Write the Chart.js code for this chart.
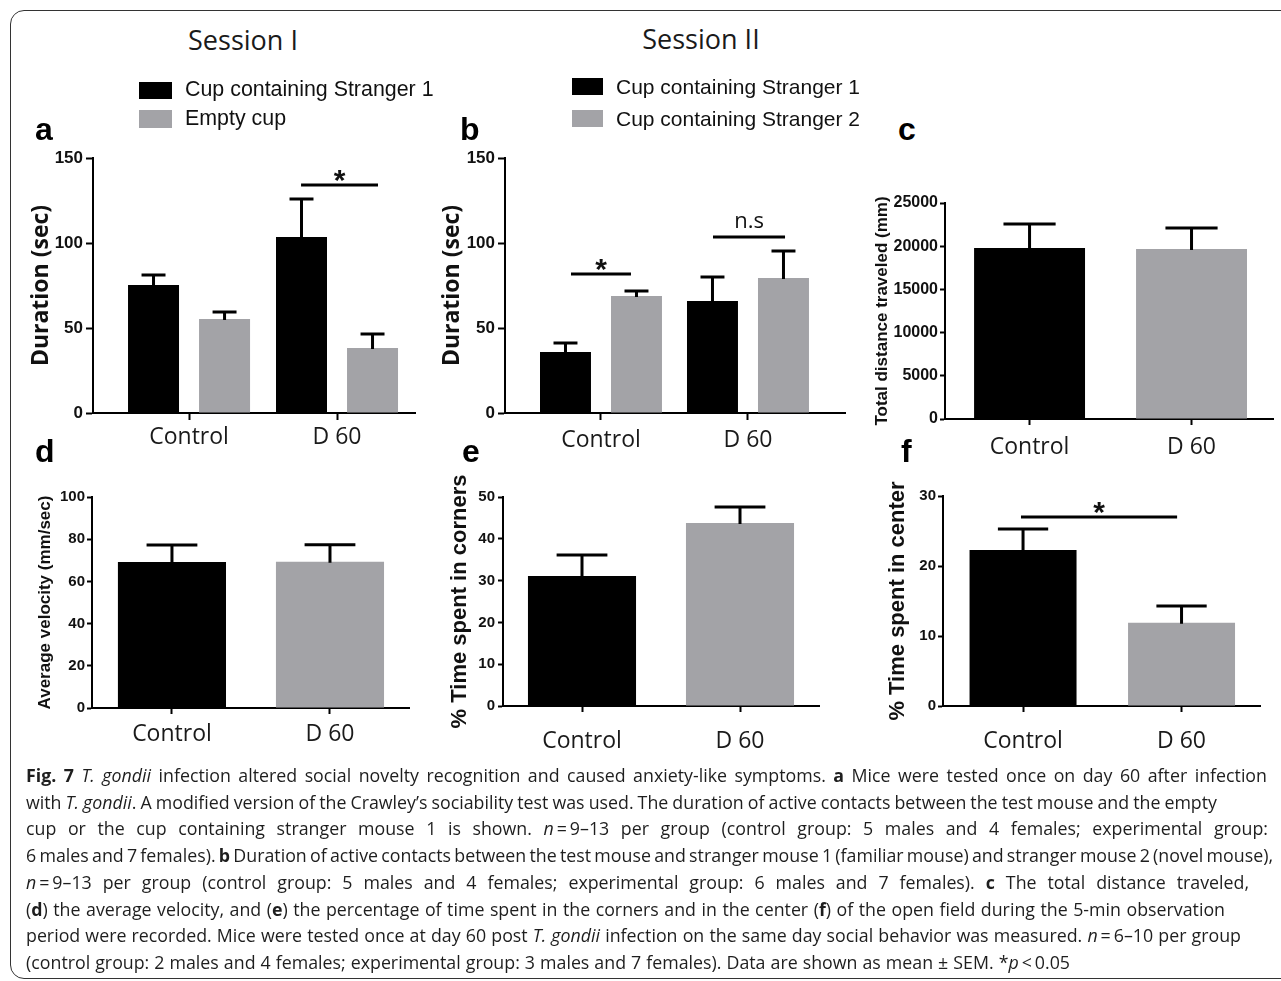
<!DOCTYPE html>
<html><head><meta charset="utf-8">
<script src="https://cdn.jsdelivr.net/npm/chart.js@4.4.0/dist/chart.umd.min.js"></script>
<style>
html,body{margin:0;padding:0;background:#fff;}
body{width:1281px;height:981px;position:relative;overflow:hidden;}
.frame{position:absolute;left:10px;top:10px;width:1330px;height:969px;border:1.6px solid #333;border-radius:14px;box-sizing:border-box;}
.txt{position:absolute;white-space:nowrap;line-height:1;}
.sw{position:absolute;}
.cap{position:absolute;left:26px;font-family:'Open Sans',sans-serif;font-size:18px;line-height:1;color:#1e1e1e;white-space:nowrap;transform-origin:0 50%;}
</style></head><body>
<div class="frame"></div>
<script>
// ---------------- data ----------------
const categories = ['Control', 'D 60'];

// a: Session I
const seriesA = ['Cup containing Stranger 1', 'Empty cup'];
const aStranger1 = [75.3, 103.5];
const aStranger1Sem = [5.9, 22.4];
const aEmpty = [55.3, 38.2];
const aEmptySem = [4.1, 8.3];
const aTicks = [0, 50, 100, 150];

// b: Session II
const seriesB = ['Cup containing Stranger 1', 'Cup containing Stranger 2'];
const bStranger1 = [35.9, 65.9];
const bStranger1Sem = [5.3, 14.1];
const bStranger2 = [68.8, 79.4];
const bStranger2Sem = [3.0, 15.9];
const bTicks = [0, 50, 100, 150];

// c: total distance
const cDistance = [19790, 19680];
const cDistanceSem = [2780, 2430];
const cTicks = [0, 5000, 10000, 15000, 20000, 25000];

// d: average velocity
const dVelocity = [69.2, 69.3];
const dVelocitySem = [8.1, 8.1];
const dTicks = [0, 20, 40, 60, 80, 100];

// e: % time in corners
const eCorners = [31.1, 43.8];
const eCornersSem = [5.0, 3.8];
const eTicks = [0, 10, 20, 30, 40, 50];

// f: % time in center
const fCenter = [22.3, 11.9];
const fCenterSem = [3.0, 2.4];
const fTicks = [0, 10, 20, 30];

// significance markers (x in category units, y in data units)
const aSig = [{from: 1.757, to: 2.277, y: 134.1, label: '*'}];
const bSig = [{from: 0.796, to: 1.204, y: 81.8, label: '*'}, {from: 1.762, to: 2.252, y: 103.5, label: 'n.s'}];
const fSig = [{from: 0.987, to: 1.972, y: 27.0, label: '*'}];

// ---------------- styles ----------------
const BLACK = '#000000', GRAY = '#a3a3a7';
const SANS = "'Liberation Sans', Arial, sans-serif";
const OPEN = "'Open Sans', sans-serif";

function addText(html, o) {
  const d = document.createElement('div');
  d.className = 'txt';
  d.innerHTML = html;
  const k = o.open ? 0.888 : 0.8465;
  d.style.fontFamily = o.open ? OPEN : SANS;
  d.style.fontSize = o.size + 'px';
  d.style.fontWeight = o.bold ? 'bold' : 'normal';
  d.style.color = o.color || '#111';
  d.style.top = (o.base - k * o.size) + 'px';
  d.style.left = o.x + 'px';
  if (o.center) d.style.transform = 'translateX(-50%)';
  document.body.appendChild(d);
}
function addSwatch(x, y, w, h, c) {
  const d = document.createElement('div');
  d.className = 'sw';
  d.style.cssText = `left:${x}px;top:${y}px;width:${w}px;height:${h}px;background:${c};`;
  document.body.appendChild(d);
}

function makePanel(p) {
  const padTop = p.padTop || 16, padRight = 6, Hx = 56;
  const lh = p.titleSize * 1.2;
  const cLeft = Math.round(p.titleX - lh / 2);
  const cTop = p.T - padTop;
  const W = p.R + padRight - cLeft;
  const H = p.B + Hx - cTop;
  const cv = document.createElement('canvas');
  cv.width = W; cv.height = H;
  cv.style.cssText = `position:absolute;left:${cLeft}px;top:${cTop}px;width:${W}px;height:${H}px;`;
  document.body.appendChild(cv);
  const catLH = 23 * 1.2;
  const catPad = p.catY + 1.5 - p.B - p.xTick - catLH / 2;

  const semPlugin = {
    id: 'semAndSig',
    afterDatasetsDraw(chart) {
      const ctx = chart.ctx, ys = chart.scales.y, xs = chart.scales.x;
      ctx.save();
      ctx.strokeStyle = '#000'; ctx.lineWidth = 3; ctx.lineCap = 'butt';
      chart.data.datasets.forEach((ds, di) => {
        const meta = chart.getDatasetMeta(di);
        meta.data.forEach((bar, i) => {
          const top = ys.getPixelForValue(ds.data[i].y + ds.sem[i]);
          const half = bar.width * 0.235;
          ctx.beginPath();
          ctx.moveTo(bar.x, bar.y + 1); ctx.lineTo(bar.x, top);
          ctx.moveTo(bar.x - half, top); ctx.lineTo(bar.x + half, top);
          ctx.stroke();
        });
      });
      (p.sig || []).forEach(s => {
        const x1 = xs.getPixelForValue(s.from), x2 = xs.getPixelForValue(s.to);
        const y = ys.getPixelForValue(s.y);
        ctx.beginPath(); ctx.moveTo(x1, y); ctx.lineTo(x2, y); ctx.stroke();
        ctx.fillStyle = '#111';
        ctx.textAlign = 'center'; ctx.textBaseline = 'alphabetic';
        if (s.label === '*') {
          ctx.font = 'bold 30px ' + SANS;
          ctx.fillText(s.label, (x1 + x2) / 2, y + 5);
        } else {
          ctx.font = '22px ' + OPEN;
          ctx.fillText(s.label, (x1 + x2) / 2, y - 9);
        }
      });
      ctx.restore();
    }
  };

  new Chart(cv, {
    type: 'bar',
    data: {
      datasets: p.series.map(s => ({
        label: s.label,
        data: s.values.map((v, i) => ({x: i + 1, y: v})),
        sem: s.sem,
        backgroundColor: s.colors,
        borderWidth: 0,
        categoryPercentage: p.catPct,
        barPercentage: p.barPct
      }))
    },
    options: {
      responsive: false, animation: false, devicePixelRatio: 1, events: [],
      layout: {padding: {top: padTop, right: padRight, left: 0, bottom: 0}},
      plugins: {legend: {display: false}, tooltip: {enabled: false}},
      scales: {
        x: {
          type: 'linear', min: p.xMin, max: p.xMax, offset: false,
          afterBuildTicks: s => { s.ticks = categories.map((c, i) => ({value: i + 1})); },
          afterFit: s => { s.height = Hx; },
          grid: {display: true, drawOnChartArea: false, drawTicks: true, tickLength: p.xTick, tickWidth: 2, tickColor: '#000', offset: false},
          border: {display: true, color: '#000', width: 2},
          ticks: {callback: (v, i) => categories[i], font: {family: OPEN, size: 23, lineHeight: 1.2}, color: '#1a1a1a', padding: catPad, maxRotation: 0, autoSkip: false}
        },
        y: {
          type: 'linear', min: p.yTicks[0], max: p.yTicks[p.yTicks.length - 1],
          afterBuildTicks: s => { s.ticks = p.yTicks.map(v => ({value: v})); },
          afterFit: s => { s.width = p.L - cLeft; },
          grid: {display: true, drawOnChartArea: false, drawTicks: true, tickLength: p.yTick, tickWidth: 2, tickColor: '#000'},
          border: {display: true, color: '#000', width: 2},
          ticks: {callback: v => String(v), font: {family: SANS, size: p.tickSize, weight: 'bold', lineHeight: 1.2}, color: '#111', padding: p.yPad},
          title: {display: true, text: p.yTitle, font: {family: p.titleFamily, size: p.titleSize, weight: 'bold', lineHeight: 1.2}, color: '#111', padding: 0}
        }
      }
    },
    plugins: [semPlugin]
  });
}

// ---------------- panels ----------------
makePanel({
  L: 93, R: 415, T: 158, B: 413, xMin: 0.351, xMax: 2.527, catPct: 0.96, barPct: 0.718,
  yTicks: aTicks, tickSize: 17, yTick: 7, yPad: 3, xTick: 7, catY: 436,
  yTitle: 'Duration (sec)', titleFamily: OPEN, titleSize: 23, titleX: 42,
  series: [
    {label: seriesA[0], values: aStranger1, sem: aStranger1Sem, colors: BLACK},
    {label: seriesA[1], values: aEmpty, sem: aEmptySem, colors: GRAY}
  ],
  sig: aSig
});
makePanel({
  L: 505, R: 845, T: 158, B: 413, xMin: 0.347, xMax: 2.66, catPct: 0.966, barPct: 0.718,
  yTicks: bTicks, tickSize: 17, yTick: 7, yPad: 3, xTick: 7, catY: 439,
  yTitle: 'Duration (sec)', titleFamily: OPEN, titleSize: 23, titleX: 453,
  series: [
    {label: seriesB[0], values: bStranger1, sem: bStranger1Sem, colors: BLACK},
    {label: seriesB[1], values: bStranger2, sem: bStranger2Sem, colors: GRAY}
  ],
  sig: bSig
});
makePanel({
  L: 945, R: 1273, T: 203, B: 419, xMin: 0.478, xMax: 2.503, catPct: 1, barPct: 0.685,
  yTicks: cTicks, tickSize: 16, yTick: 5, yPad: 2, xTick: 6, catY: 446,
  yTitle: 'Total distance traveled (mm)', titleFamily: SANS, titleSize: 17, titleX: 882,
  series: [{label: 'Total distance traveled', values: cDistance, sem: cDistanceSem, colors: [BLACK, GRAY]}]
});
makePanel({
  L: 92, R: 409, T: 497, B: 708, xMin: 0.494, xMax: 2.5, catPct: 1, barPct: 0.684, padTop: 30,
  yTicks: dTicks, tickSize: 15, yTick: 5, yPad: 2, xTick: 6, catY: 733,
  yTitle: 'Average velocity (mm/sec)', titleFamily: SANS, titleSize: 17, titleX: 45,
  series: [{label: 'Average velocity', values: dVelocity, sem: dVelocitySem, colors: [BLACK, GRAY]}]
});
makePanel({
  L: 503, R: 819, T: 497, B: 706, xMin: 0.5, xMax: 2.5, catPct: 1, barPct: 0.684, padTop: 34,
  yTicks: eTicks, tickSize: 15, yTick: 5, yPad: 3, xTick: 6, catY: 740,
  yTitle: '% Time spent in corners', titleFamily: SANS, titleSize: 22, titleX: 460,
  series: [{label: 'Time spent in corners', values: eCorners, sem: eCornersSem, colors: [BLACK, GRAY]}]
});
makePanel({
  L: 943, R: 1260, T: 496, B: 706, xMin: 0.495, xMax: 2.495, catPct: 1, barPct: 0.675, padTop: 30,
  yTicks: fTicks, tickSize: 15, yTick: 5, yPad: 2, xTick: 6, catY: 740,
  yTitle: '% Time spent in center', titleFamily: SANS, titleSize: 22, titleX: 898,
  series: [{label: 'Time spent in center', values: fCenter, sem: fCenterSem, colors: [BLACK, GRAY]}],
  sig: fSig
});

// ---------------- headings, letters, legends ----------------
addText('Session I', {x: 243, base: 50, size: 27, open: true, center: true, color: '#1a1a1a'});
addText('Session II', {x: 701, base: 49, size: 27, open: true, center: true, color: '#1a1a1a'});
[['a', 35, 140], ['b', 460, 140], ['c', 898, 140], ['d', 35, 462], ['e', 462, 462], ['f', 901, 462]]
  .forEach(([t, x, b]) => addText(t, {x: x, base: b, size: 32, bold: true, color: '#000'}));

addSwatch(139, 82, 33, 17, BLACK);
addSwatch(139, 110, 33, 18, GRAY);
addText(seriesA[0], {x: 185, base: 97, size: 21.4});
addText(seriesA[1], {x: 185, base: 126, size: 21.4});
addSwatch(572, 78, 31, 17, BLACK);
addSwatch(572, 110, 31, 17, GRAY);
addText(seriesB[0], {x: 616, base: 94, size: 21});
addText(seriesB[1], {x: 616, base: 126, size: 21});

// ---------------- caption ----------------
// [html, right end of the line, naturally spaced?]
const capLines = [
  ['<b>Fig. 7</b> <i>T. gondii</i> infection altered social novelty recognition and caused anxiety-like symptoms. <b>a</b> Mice were tested once on day 60 after infection', 1267, false],
  ['with <i>T. gondii</i>. A modified version of the Crawley’s sociability test was used. The duration of active contacts between the test mouse and the empty', 1217, true],
  ['cup or the cup containing stranger mouse 1 is shown. <i>n</i>&thinsp;=&thinsp;9–13 per group (control group: 5 males and 4 females; experimental group:', 1268, false],
  ['6 males and 7 females). <b>b</b> Duration of active contacts between the test mouse and stranger mouse 1 (familiar mouse) and stranger mouse 2 (novel mouse),', 1273, true],
  ['<i>n</i>&thinsp;=&thinsp;9–13 per group (control group: 5 males and 4 females; experimental group: 6 males and 7 females). <b>c</b> The total distance traveled,', 1249, false],
  ['(<b>d</b>) the average velocity, and (<b>e</b>) the percentage of time spent in the corners and in the center (<b>f</b>) of the open field during the 5-min observation', 1225, true],
  ['period were recorded. Mice were tested once at day 60 post <i>T. gondii</i> infection on the same day social behavior was measured. <i>n</i>&thinsp;=&thinsp;6–10 per group', 1241, true],
  ['(control group: 2 males and 4 females; experimental group: 3 males and 7 females). Data are shown as mean ± SEM. *<i>p</i>&thinsp;&lt;&thinsp;0.05', 1070, true]
];
const CAP_FS = 18;
const capEls = capLines.map(([html, end, natural], i) => {
  const d = document.createElement('div');
  d.className = 'cap';
  d.innerHTML = html;
  d.dataset.line = i;
  d.dataset.end = end;
  d.dataset.natural = natural ? '1' : '0';
  d.style.top = (782 + i * 26.7 - 0.888 * CAP_FS) + 'px';
  document.body.appendChild(d);
  return d;
});
function fitCaption() {
  // horizontal squeeze taken from the naturally spaced lines, then each line fitted to its end
  let ratioSum = 0, cnt = 0;
  capEls.forEach(d => {
    d.style.transform = 'none'; d.style.wordSpacing = '0px';
    if (d.dataset.natural === '1') {
      ratioSum += (Number(d.dataset.end) - 26) / d.getBoundingClientRect().width; cnt++;
    }
  });
  const sx = Math.min(1.1, Math.max(0.8, ratioSum / cnt));
  capEls.forEach(d => {
    const w = d.getBoundingClientRect().width;
    const n = (d.textContent.match(/ /g) || []).length;
    const target = (Number(d.dataset.end) - 26) / sx;
    if (n > 0) d.style.wordSpacing = ((target - w) / n) + 'px';
    d.style.transform = 'scaleX(' + sx + ')';
  });
}
fitCaption();
if (document.fonts && document.fonts.ready) document.fonts.ready.then(fitCaption);
</script>
</body></html>
